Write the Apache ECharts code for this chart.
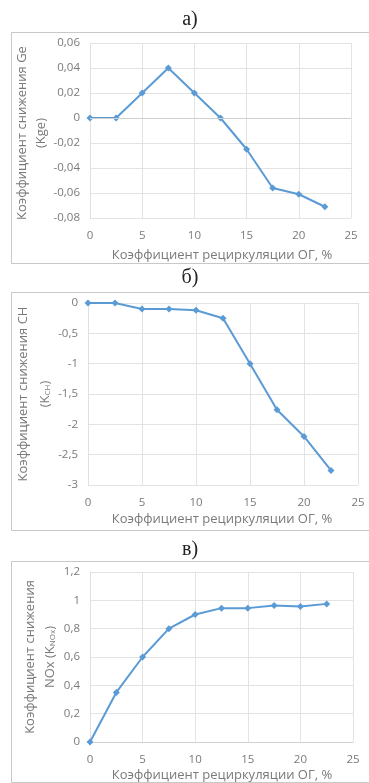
<!DOCTYPE html>
<html>
<head>
<meta charset="utf-8">
<script src="https://cdn.jsdelivr.net/npm/echarts@6/dist/echarts.min.js"></script>
<style>
html,body{margin:0;padding:0;background:#fff;}
#chart{width:369px;height:783px;}
</style>
</head>
<body>
<div id="chart"></div>
<script>
// Shared x values: EGR coefficient, %
const egr = [0, 2.5, 5, 7.5, 10, 12.5, 15, 17.5, 20, 22.5];
// a) Ge reduction coefficient
const kGe = [0, 0, 0.02, 0.04, 0.02, 0, -0.025, -0.056, -0.061, -0.071];
// б) CH reduction coefficient
const kCH = [0, 0, -0.1, -0.1, -0.12, -0.25, -1.0, -1.76, -2.2, -2.76];
// в) NOx reduction coefficient
const kNOx = [0, 0.35, 0.6, 0.8, 0.9, 0.945, 0.945, 0.963, 0.956, 0.975];

const panelTitles = ['а)', 'б)', 'в)'];
const xTitle = 'Коэффициент рециркуляции ОГ, %';

const FONT = '"Open Sans", "DejaVu Sans", sans-serif';
const GRAY = '#7a7a7a';
const GRID = '#e3e3e3';
const BLUE = '#5b9bd5';

function fmt(v, d) {
  if (Math.abs(v) < 1e-9) return '0';
  let s = (Math.round(v * Math.pow(10, d)) / Math.pow(10, d)).toString();
  return s.replace('.', ',');
}

const grids = [
  {left: 90, right: 18, top: 43, height: 175},
  {left: 88, right: 11, top: 303, height: 182},
  {left: 90, right: 16, top: 572, height: 170}
];

const yCfg = [
  {min: -0.08, max: 0.06, interval: 0.02, d: 2},
  {min: -3, max: 0, interval: 0.5, d: 1},
  {min: 0, max: 1.2, interval: 0.2, d: 1}
];

const xAxes = grids.map((g, i) => ({
  type: 'value', gridIndex: i, min: 0, max: 25, interval: 5,
  axisLine: {show: i === 2, onZero: false, lineStyle: {color: '#d0d0d0'}},
  axisTick: {show: false},
  axisLabel: {color: GRAY, fontFamily: FONT, fontSize: 11.5, margin: 12},
  splitLine: {show: true, lineStyle: {color: GRID, width: 1}}
}));

const yAxes = yCfg.map((c, i) => ({
  type: 'value', gridIndex: i, min: c.min, max: c.max, interval: c.interval,
  axisLine: {show: true, lineStyle: {color: '#e0e0e0'}},
  axisTick: {show: false},
  axisLabel: {color: GRAY, fontFamily: FONT, fontSize: 11.5, margin: 10,
    formatter: v => fmt(v, c.d)},
  splitLine: {show: true, lineStyle: {color: GRID, width: 1}}
}));

const dataSets = [kGe, kCH, kNOx];
const series = dataSets.map((arr, i) => ({
  type: 'line', xAxisIndex: i, yAxisIndex: i,
  data: egr.map((x, j) => [x, arr[j]]),
  symbol: 'diamond', symbolSize: 7,
  lineStyle: {color: BLUE, width: 2},
  itemStyle: {color: BLUE},
  animation: false,
  markLine: i === 0 ? {
    silent: true, symbol: 'none', label: {show: false},
    lineStyle: {color: '#d0d0d0', type: 'solid', width: 1},
    data: [{yAxis: 0}]
  } : undefined
}));

// panel frames
const boxes = [[11, 32, 263], [11, 292, 530], [11, 561, 782]];
const titleY = [20, 278, 550];
const xTitleY = [255, 519, 775];

const graphic = [];
boxes.forEach(b => {
  graphic.push({type: 'rect', shape: {x: b[0] + 0.5, y: b[1] + 0.5, width: 380, height: b[2] - b[1]},
    style: {fill: 'none', stroke: '#c8c8c8', lineWidth: 1}, z: -1});
});
panelTitles.forEach((t, i) => {
  graphic.push({type: 'text', x: 190, y: titleY[i],
    style: {text: t, fill: '#222', font: '20px "Liberation Serif", serif',
      textAlign: 'center', textVerticalAlign: 'middle'}});
  graphic.push({type: 'text', x: 222, y: xTitleY[i],
    style: {text: xTitle, fill: GRAY, font: '13px ' + FONT,
      textAlign: 'center', textVerticalAlign: 'middle'}});
});

// y-axis titles (rotated, two lines)
const yTitles = [
  {cy: 133, x1: 22, x2: 41, l1: 'Коэффициент снижения Ge', l2: '(Kge)'},
  {cy: 394, x1: 23, x2: 45, l1: 'Коэффициент снижения CH', l2: '(K{s|CH})'},
  {cy: 657, x1: 30, x2: 50, l1: 'Коэффициент снижения', l2: 'NOx (K{s|NOx})'}
];
yTitles.forEach(t => {
  [[t.x1, t.l1], [t.x2, t.l2]].forEach(p => {
    graphic.push({type: 'text', x: p[0], y: t.cy, rotation: Math.PI / 2,
      style: {text: p[1], fill: GRAY, font: '13px ' + FONT,
        textAlign: 'center', textVerticalAlign: 'middle',
        rich: {s: {fontSize: 8, fill: GRAY, fontFamily: FONT, padding: [5, 0, 0, 0]}}}});
  });
});

const chart = echarts.init(document.getElementById('chart'), null, {renderer: 'canvas'});
chart.setOption({
  animation: false,
  backgroundColor: '#fff',
  grid: grids,
  xAxis: xAxes,
  yAxis: yAxes,
  series: series,
  graphic: graphic
});
</script>
</body>
</html>
